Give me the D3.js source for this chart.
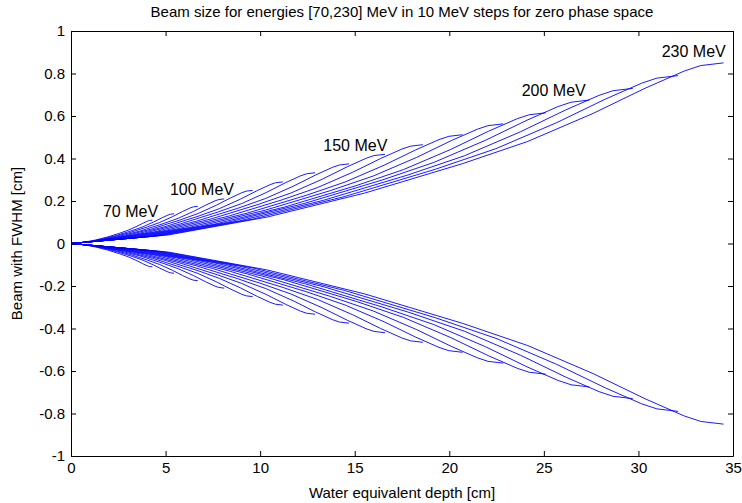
<!DOCTYPE html>
<html lang="en">
<head>
<meta charset="utf-8">
<title>Beam size vs depth</title>
<script src="https://d3js.org/d3.v7.min.js"></script>
<style>
body { margin: 0; background: #fff; }
text { font-family: "Liberation Sans", Arial, sans-serif; }
</style>
</head>
<body>
<script type="text/javascript">
var w = 742;
var h = 503;
var margin = {top: 31, right: 9, bottom: 47, left: 71};

// energies in MeV, one curve each (upper half; lower half is the mirror)
var energies = [70, 80, 90, 100, 110, 120, 130, 140, 150, 160, 170, 180, 190, 200, 210, 220, 230];

// water equivalent depth [cm] of the points read for each curve
var depth = [
  [0, 0.645, 1.29, 1.935, 2.58, 3.01, 3.44, 3.784, 4.042, 4.15, 4.3],
  [0, 0.818, 1.635, 2.453, 3.27, 3.815, 4.36, 4.796, 5.123, 5.259, 5.45],
  [0, 1.005, 2.01, 3.015, 4.02, 4.69, 5.36, 5.896, 6.298, 6.466, 6.7],
  [0, 1.215, 2.43, 3.645, 4.86, 5.67, 6.48, 7.128, 7.614, 7.817, 8.1],
  [0, 1.44, 2.88, 4.32, 5.76, 6.72, 7.68, 8.448, 9.024, 9.264, 9.6],
  [0, 1.68, 3.36, 5.04, 6.72, 7.84, 8.96, 9.856, 10.528, 10.808, 11.2],
  [0, 1.935, 3.87, 5.805, 7.74, 9.03, 10.32, 11.352, 12.126, 12.449, 12.9],
  [0, 2.205, 4.41, 6.615, 8.82, 10.29, 11.76, 12.936, 13.818, 14.186, 14.7],
  [0, 2.49, 4.98, 7.47, 9.96, 11.62, 13.28, 14.608, 15.604, 16.019, 16.6],
  [0, 2.79, 5.58, 8.37, 11.16, 13.02, 14.88, 16.368, 17.484, 17.949, 18.6],
  [0, 3.105, 6.21, 9.315, 12.42, 14.49, 16.56, 18.216, 19.458, 19.976, 20.7],
  [0, 3.428, 6.855, 10.283, 13.71, 15.995, 18.28, 20.108, 21.479, 22.05, 22.85],
  [0, 3.765, 7.53, 11.295, 15.06, 17.57, 20.08, 22.088, 23.594, 24.222, 25.1],
  [0, 4.11, 8.22, 12.33, 16.44, 19.18, 21.92, 24.112, 25.756, 26.441, 27.4],
  [0, 4.455, 8.91, 13.365, 17.82, 20.79, 23.76, 26.136, 27.918, 28.661, 29.7],
  [0, 4.815, 9.63, 14.445, 19.26, 22.47, 25.68, 28.248, 30.174, 30.977, 32.1],
  [0, 5.175, 10.35, 15.525, 20.7, 24.15, 27.6, 30.36, 32.43, 33.293, 34.5]
];

// beam half width (FWHM/2) [cm] at those depths
var halfWidth = [
  [0, 0.0053, 0.0161, 0.0307, 0.0486, 0.0622, 0.0792, 0.0946, 0.105, 0.1084, 0.11],
  [0, 0.0067, 0.0204, 0.0391, 0.0619, 0.0791, 0.1008, 0.1204, 0.1337, 0.1379, 0.14],
  [0, 0.0084, 0.0256, 0.0488, 0.0774, 0.0989, 0.126, 0.1505, 0.1671, 0.1724, 0.175],
  [0, 0.0101, 0.0307, 0.0586, 0.0928, 0.1187, 0.1512, 0.1806, 0.2006, 0.2069, 0.21],
  [0, 0.012, 0.0365, 0.0698, 0.1105, 0.1413, 0.18, 0.215, 0.2388, 0.2463, 0.25],
  [0, 0.0139, 0.0423, 0.0809, 0.1282, 0.1639, 0.2088, 0.2494, 0.277, 0.2857, 0.29],
  [0, 0.016, 0.0486, 0.0929, 0.1472, 0.1881, 0.2398, 0.2864, 0.318, 0.328, 0.333],
  [0, 0.018, 0.0548, 0.1046, 0.1658, 0.2119, 0.27, 0.3225, 0.3581, 0.3694, 0.375],
  [0, 0.0202, 0.0613, 0.1172, 0.1856, 0.2373, 0.3024, 0.3612, 0.4011, 0.4137, 0.42],
  [0, 0.0223, 0.0679, 0.1297, 0.2055, 0.2627, 0.3348, 0.3999, 0.4441, 0.458, 0.465],
  [0, 0.0246, 0.0748, 0.1428, 0.2263, 0.2893, 0.3686, 0.4403, 0.489, 0.5043, 0.512],
  [0, 0.027, 0.0822, 0.1571, 0.2488, 0.3181, 0.4054, 0.4842, 0.5377, 0.5546, 0.563],
  [0, 0.0295, 0.0898, 0.1716, 0.2718, 0.3475, 0.4428, 0.5289, 0.5873, 0.6058, 0.615],
  [0, 0.0324, 0.0986, 0.1883, 0.2984, 0.3814, 0.486, 0.5805, 0.6446, 0.6649, 0.675],
  [0, 0.035, 0.1066, 0.2037, 0.3227, 0.4125, 0.5256, 0.6278, 0.6972, 0.7191, 0.73],
  [0, 0.0379, 0.1153, 0.2204, 0.3492, 0.4464, 0.5688, 0.6794, 0.7545, 0.7782, 0.79],
  [0, 0.0408, 0.1241, 0.2372, 0.3757, 0.4803, 0.612, 0.731, 0.8118, 0.8373, 0.85]
];

// annotations: text, depth, half width (left edge / middle of text)
var labelText = ["70 MeV", "100 MeV", "150 MeV", "200 MeV", "230 MeV"];
var labelX = [1.69, 5.23, 13.34, 23.83, 31.23];
var labelY = [0.152, 0.253, 0.4635, 0.7185, 0.905];

var xTicks = [0, 5, 10, 15, 20, 25, 30, 35];
var yTicks = [-1, -0.8, -0.6, -0.4, -0.2, 0, 0.2, 0.4, 0.6, 0.8, 1];

var titleText = "Beam size for energies [70,230] MeV in 10 MeV steps for zero phase space";
var xLabel = "Water equivalent depth [cm]";
var yLabel = "Beam with FWHM [cm]";

var iw = w - margin.left - margin.right;
var ih = h - margin.top - margin.bottom;

var xScale = d3.scaleLinear().domain([0, 35]).range([0, iw]);
var yScale = d3.scaleLinear().domain([-1, 1]).range([ih, 0]);

var svg = d3.select("body")
            .append("svg")
            .attr("width", w)
            .attr("height", h);

svg.append("rect").attr("width", w).attr("height", h).attr("fill", "#fff");

var g = svg.append("g")
           .attr("transform", "translate(" + margin.left + "," + margin.top + ")");

// curves: upper and mirrored lower half
var line = d3.line()
             .x(function(d){ return xScale(d[0]); })
             .y(function(d){ return yScale(d[1]); });

var series = [];
energies.forEach(function(e, i){
  var up = depth[i].map(function(d, j){ return [d, halfWidth[i][j]]; });
  var down = depth[i].map(function(d, j){ return [d, -halfWidth[i][j]]; });
  series.push(up, down);
});

g.selectAll("path.beam")
 .data(series)
 .enter()
 .append("path")
 .attr("class", "beam")
 .attr("d", line)
 .attr("fill", "none")
 .attr("stroke", "#0000ff")
 .attr("stroke-width", 0.9);

// labels
g.selectAll("text.elabel")
 .data(labelText)
 .enter()
 .append("text")
 .attr("class", "elabel")
 .attr("x", function(d, i){ return xScale(labelX[i]); })
 .attr("y", function(d, i){ return yScale(labelY[i]); })
 .attr("dy", "0.35em")
 .attr("font-size", "16px")
 .attr("fill", "#000")
 .text(function(d){ return d; });

// axes, ticks pointing inward like matlab; plain hyphen for minus
var fmt = function(d){ return String(+d.toFixed(1)); };

var axB = g.append("g").attr("transform", "translate(0," + ih + ")")
  .call(d3.axisBottom(xScale).tickValues(xTicks).tickSizeInner(-5).tickSizeOuter(0).tickPadding(6));
var axT = g.append("g")
  .call(d3.axisTop(xScale).tickValues(xTicks).tickSizeInner(-5).tickSizeOuter(0).tickFormat(""));
var axL = g.append("g")
  .call(d3.axisLeft(yScale).tickValues(yTicks).tickSizeInner(-5).tickSizeOuter(0).tickPadding(6).tickFormat(fmt));
var axR = g.append("g").attr("transform", "translate(" + iw + ",0)")
  .call(d3.axisRight(yScale).tickValues(yTicks).tickSizeInner(-5).tickSizeOuter(0).tickFormat(""));

[axB, axT, axL, axR].forEach(function(a){
  a.selectAll("path, line").attr("stroke", "#000");
  a.selectAll("text").attr("font-size", "15px").attr("fill", "#000")
   .attr("font-family", "'Liberation Sans', Arial, sans-serif");
});

// title and axis labels
svg.append("text")
   .attr("x", margin.left + iw / 2)
   .attr("y", 17)
   .attr("text-anchor", "middle")
   .attr("font-size", "15px")
   .text(titleText);

svg.append("text")
   .attr("x", margin.left + iw / 2)
   .attr("y", 498)
   .attr("text-anchor", "middle")
   .attr("font-size", "15px")
   .text(xLabel);

svg.append("text")
   .attr("transform", "translate(22," + (margin.top + ih / 2) + ") rotate(-90)")
   .attr("text-anchor", "middle")
   .attr("font-size", "15px")
   .text(yLabel);
</script>
</body>
</html>
